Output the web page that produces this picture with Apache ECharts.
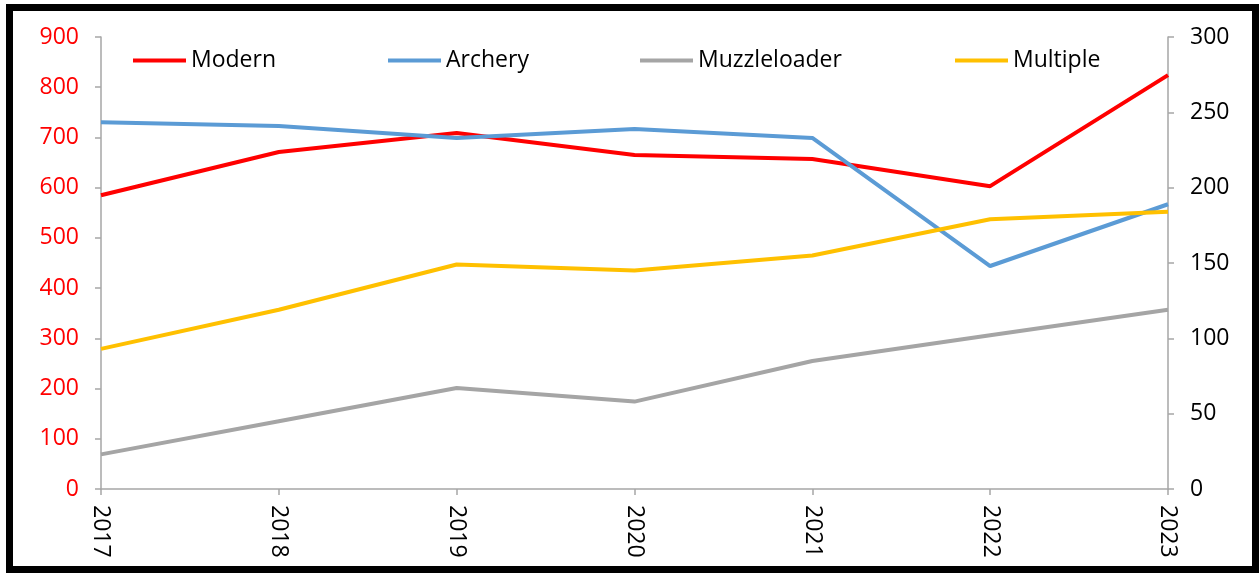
<!DOCTYPE html>
<html>
<head>
<meta charset="utf-8">
<script src="https://cdn.jsdelivr.net/npm/echarts@6/dist/echarts.min.js"></script>
<style>
  html, body { margin: 0; padding: 0; background: #fff; }
  .frame {
    position: absolute; left: 6px; top: 4px;
    width: 1239px; height: 555px;
    border: 7px solid #000; background: #fff;
  }
  #chart { position: absolute; left: 0; top: 0; width: 1259px; height: 577px; }
</style>
</head>
<body>
<div class="frame"></div>
<div id="chart"></div>
<script>
const years = ['2017', '2018', '2019', '2020', '2021', '2022', '2023']
// left axis
const modern = [585, 671, 709, 665, 657, 603, 824]
// right axis
const archery = [243.5, 241, 233, 239, 233, 148, 189]
const muzzleloader = [23, 45, 67, 58, 85, 102, 119]
const multiple = [93, 119, 149, 145, 155, 179, 184]

const font = 'Open Sans'
const chart = echarts.init(document.getElementById('chart'))

function legendAt(name, left) {
  return {
    data: [{ name: name, icon: 'rect' }],
    left: left,
    top: 49,
    padding: 0,
    itemWidth: 53,
    itemHeight: 4,
    itemGap: 0,
    textStyle: { fontFamily: font, fontSize: 23, color: '#000' },
    selectedMode: false
  }
}

function lineSeries(name, data, color, axis) {
  return {
    name: name,
    type: 'line',
    yAxisIndex: axis,
    data: data,
    symbol: 'none',
    smooth: false,
    lineStyle: { color: color, width: 4 },
    itemStyle: { color: color },
    emphasis: { disabled: true }
  }
}

const axisGray = '#a6a6a6'

const option = {
  animation: false,
  backgroundColor: 'transparent',
  legend: [
    legendAt('Modern', 133),
    legendAt('Archery', 388),
    legendAt('Muzzleloader', 640),
    legendAt('Multiple', 955)
  ],
  grid: { left: 101, right: 91, top: 37, bottom: 88, containLabel: false },
  xAxis: {
    type: 'category',
    data: years,
    boundaryGap: false,
    axisLine: { lineStyle: { color: axisGray, width: 1.5 } },
    axisTick: { show: true, length: 6, lineStyle: { color: axisGray, width: 1.5 } },
    axisLabel: { rotate: -90, margin: 16, fontFamily: font, fontSize: 23, color: '#000' },
    splitLine: { show: false }
  },
  yAxis: [
    {
      type: 'value', min: 0, max: 900, interval: 100, position: 'left',
      axisLine: { show: true, lineStyle: { color: axisGray, width: 1.5 } },
      axisTick: { show: true, length: 6, lineStyle: { color: axisGray, width: 1.5 } },
      axisLabel: { margin: 22, fontFamily: font, fontSize: 23, color: '#ff0000' },
      splitLine: { show: false }
    },
    {
      type: 'value', min: 0, max: 300, interval: 50, position: 'right',
      axisLine: { show: true, lineStyle: { color: axisGray, width: 1.5 } },
      axisTick: { show: true, length: 6, lineStyle: { color: axisGray, width: 1.5 } },
      axisLabel: { margin: 22, fontFamily: font, fontSize: 23, color: '#000' },
      splitLine: { show: false }
    }
  ],
  series: [
    lineSeries('Modern', modern, '#ff0000', 0),
    lineSeries('Archery', archery, '#5b9bd5', 1),
    lineSeries('Muzzleloader', muzzleloader, '#a5a5a5', 1),
    lineSeries('Multiple', multiple, '#ffc000', 1)
  ]
}

chart.setOption(option)
</script>
</body>
</html>
